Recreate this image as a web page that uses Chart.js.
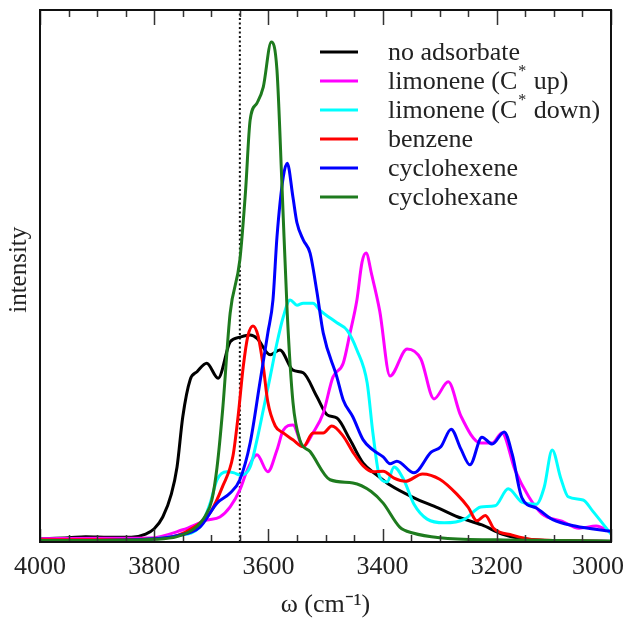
<!DOCTYPE html>
<html><head><meta charset="utf-8">
<script src="https://cdn.jsdelivr.net/npm/chart.js@4.4.1/dist/chart.umd.min.js"></script>
<style>html,body{margin:0;padding:0;background:#fff;}#wrap{width:627px;height:619px;}</style>
</head><body><div id="wrap"><canvas id="c" width="627" height="619"></canvas></div>
<script>
// ---- data (wavenumber in cm^-1, intensity in arbitrary units 0..100) ----
const xTickValues = [4000, 3800, 3600, 3400, 3200, 3000];
const markerWN = 3650;

const noAdsWN = [4000,3950,3920,3880,3840,3815,3800,3785,3770,3760,3750,3737,3725,3708,3688,3667,3650,3632,3620,3597,3580,3557,3539,3515,3497,3480,3457,3434,3410,3387,3345,3303,3268,3226,3191,3156,3116,3054,3000];
const noAdsI  = [0.6,0.8,1.0,0.9,0.9,1.5,2.5,4.7,9,14.1,23.5,30.5,32,33.6,30.8,37.6,38.5,38.9,38.3,35.2,36.1,32.3,31.8,27.3,23.9,23.3,19.2,14.8,12.6,10.7,8.3,6.4,4.7,3.2,1.5,0.6,0.3,0.2,0.1];

const limUpWN = [4000,3900,3807,3750,3708,3685,3667,3650,3637,3620,3601,3585,3574,3557,3539,3522,3504,3487,3469,3457,3445,3436,3429,3419,3405,3387,3357,3333,3310,3285,3263,3228,3208,3191,3168,3144,3121,3086,3056,3026,3000];
const limUpI  = [0.6,0.7,0.75,2.3,4.1,4.7,6.6,9.8,13.5,16.4,13.2,17.3,21,22,17.9,20.5,24.2,31,33.6,39.3,45.5,52.6,54.3,50.2,43.4,31.2,36.3,34.4,26.9,30.1,23.7,18.6,18.6,20.5,13.5,8.5,5.3,3.9,2.6,3,1.8];

const limDownWN = [4000,3900,3800,3760,3720,3702,3690,3673,3660,3650,3632,3620,3609,3597,3585,3574,3562,3550,3539,3522,3510,3480,3462,3445,3427,3417,3405,3392,3380,3363,3345,3322,3292,3256,3228,3203,3180,3156,3131,3117,3103,3088,3075,3049,3032,3000];
const limDownI  = [0.3,0.3,0.6,1.2,2.8,7.3,11.7,13.2,13,12.6,14.1,19.2,24.8,31,37.4,42.3,45.5,44.5,44.9,44.9,43.6,41.2,39.8,36.1,29.9,20.5,12.2,11.3,14.1,11.7,7.1,4.3,3.6,4.3,6.6,6.8,10,7.5,7.1,10.3,17.3,12,8.5,7.9,5.8,1.5];

const benzeneWN = [4000,3900,3800,3760,3730,3702,3680,3662,3653,3644,3636,3627,3618,3609,3601,3588,3574,3557,3539,3522,3504,3489,3469,3452,3434,3417,3399,3380,3360,3330,3300,3270,3250,3235,3220,3205,3173,3131,3000];
const benzeneI  = [0.4,0.4,0.6,1.2,2.8,5.5,10.5,16.2,23.7,33,38.7,40.6,38.7,33,26.3,21.8,20.5,19.2,17.9,20.5,20.5,21.8,19.9,16.9,14.3,13.2,13.3,12,11.4,12.8,11.8,9,6.5,4,5,2.5,1.3,0.4,0.1];

const cyclohexeneWN = [4000,3900,3800,3760,3720,3690,3667,3650,3632,3615,3601,3592,3585,3574,3567,3557,3550,3539,3527,3515,3504,3480,3469,3452,3434,3417,3399,3387,3375,3345,3315,3298,3280,3263,3247,3226,3208,3187,3173,3156,3131,3102,3063,3000];
const cyclohexeneI  = [0.3,0.3,0.6,1.2,2.8,7.3,9.2,11.7,18.6,29.9,39.3,45.5,57.3,68.6,71.2,64.8,60,56.8,54.3,47,39.3,31,26.7,23.5,19.2,17.3,16,14.7,15.2,13,16.9,17.9,21.2,17.5,14.5,19.7,18.4,20.7,16.5,8.3,6.4,4.2,3,2];

const cyclohexaneWN = [4000,3900,3800,3760,3730,3710,3699,3690,3680,3667,3650,3640,3632,3620,3609,3595,3585,3576,3567,3557,3545,3527,3492,3452,3420,3399,3370,3347,3300,3200,3100,3000];
const cyclohexaneI  = [0.3,0.3,0.5,1,2.5,5,7.9,14,25,43,53,66,79.3,82.5,85.5,94,88.7,66.4,43,26.3,19.2,17,11.7,11.1,9.5,7.3,2.8,1.7,0.8,0.4,0.3,0.2];

const seriesLabels = ['no adsorbate','limonene (C* up)','limonene (C* down)','benzene','cyclohexene','cyclohexane'];
const seriesColors = ['#000000','#ff00ff','#00ffff','#ff0000','#0000ff','#1e7b1e'];
const seriesWN = [noAdsWN, limUpWN, limDownWN, benzeneWN, cyclohexeneWN, cyclohexaneWN];
const seriesI  = [noAdsI, limUpI, limDownI, benzeneI, cyclohexeneI, cyclohexaneI];

const pts = (xs, ys) => xs.map((x, i) => ({x: x, y: ys[i]}));

const datasets = seriesLabels.map((lab, k) => ({
  label: lab,
  data: pts(seriesWN[k], seriesI[k]),
  borderColor: seriesColors[k],
  backgroundColor: seriesColors[k],
  borderWidth: 3,
  pointRadius: 0,
  fill: false,
  cubicInterpolationMode: 'monotone',
  order: 6 - k,
  inLegend: true
}));
datasets.push({
  label: 'marker',
  data: [{x: markerWN, y: 0}, {x: markerWN, y: 100}],
  borderColor: '#111',
  borderWidth: 2,
  borderDash: [2, 2.5],
  pointRadius: 0,
  fill: false,
  order: 10,
  inLegend: false
});

const SERIF = '"Liberation Serif", "Times New Roman", serif';

const decor = {
  id: 'decor',
  afterDraw(chart) {
    const ctx = chart.ctx, a = chart.chartArea, xs = chart.scales.x;
    ctx.save();
    // tick marks (inward), top & bottom
    ctx.strokeStyle = '#333';
    ctx.lineWidth = 1.5;
    for (let v = 3000; v <= 4000; v += 50) {
      const px = Math.round(xs.getPixelForValue(v)) + 0.5;
      const major = (v % 200 === 0);
      ctx.beginPath();
      ctx.moveTo(px, a.bottom); ctx.lineTo(px, a.bottom - (major ? 13 : 7));
      ctx.moveTo(px, a.top); ctx.lineTo(px, a.top + (major ? 15 : 7));
      ctx.stroke();
    }
    // frame
    ctx.lineWidth = 2;
    ctx.strokeStyle = '#111';
    ctx.strokeRect(a.left, a.top, a.right - a.left, a.bottom - a.top);
    // legend
    const items = chart.data.datasets.filter(d => d.inLegend);
    const x0 = 320, x1 = 358, tx = 388, y0 = 52, dy = 29;
    items.forEach((d, i) => {
      const y = y0 + i * dy;
      ctx.strokeStyle = d.borderColor;
      ctx.lineWidth = 3;
      ctx.setLineDash([]);
      ctx.beginPath(); ctx.moveTo(x0, y); ctx.lineTo(x1, y); ctx.stroke();
      ctx.fillStyle = '#222';
      ctx.textBaseline = 'middle';
      ctx.textAlign = 'left';
      const parts = d.label.split('*');
      let cx = tx;
      parts.forEach((p, j) => {
        ctx.font = '26px ' + SERIF;
        ctx.fillText(p, cx, y + 1);
        cx += ctx.measureText(p).width;
        if (j < parts.length - 1) {
          ctx.font = '16px ' + SERIF;
          ctx.fillText('*', cx + 1, y - 9);
          cx += ctx.measureText('*').width + 2;
        }
      });
    });
    ctx.restore();
  }
};

new Chart(document.getElementById('c'), {
  type: 'line',
  data: { datasets: datasets },
  options: {
    responsive: false,
    animation: false,
    devicePixelRatio: 1,
    layout: { padding: { left: 0, top: 10, right: 16, bottom: 0 } },
    plugins: { legend: { display: false }, tooltip: { enabled: false } },
    scales: {
      x: {
        type: 'linear',
        reverse: true,
        min: 3000, max: 4000,
        afterBuildTicks: (s) => { s.ticks = xTickValues.map(v => ({value: v})); },
        afterFit: (s) => { s.height = 77; s.paddingLeft = 0; s.paddingRight = 0; },
        grid: { display: false, drawTicks: false },
        border: { display: false },
        ticks: {
          color: '#222', font: { family: SERIF, size: 26 }, padding: 10, maxRotation: 0, autoSkip: false,
          callback: (v) => (v === 3000 ? String(v) + '\u2003' : String(v))
        },
        title: { display: true, text: 'ω (cm⁻¹)', color: '#222', font: { family: SERIF, size: 26, lineHeight: 1.0 }, padding: { top: 0, bottom: 1 } }
      },
      y: {
        min: 0, max: 100,
        afterFit: (s) => { s.width = 40; },
        grid: { display: false, drawTicks: false },
        border: { display: false },
        ticks: { display: false },
        title: { display: true, text: '\u2002intensity', color: '#222', font: { family: SERIF, size: 25, lineHeight: 1.0 }, padding: { top: 7 } }
      }
    }
  },
  plugins: [decor]
});
</script>
</body></html>
